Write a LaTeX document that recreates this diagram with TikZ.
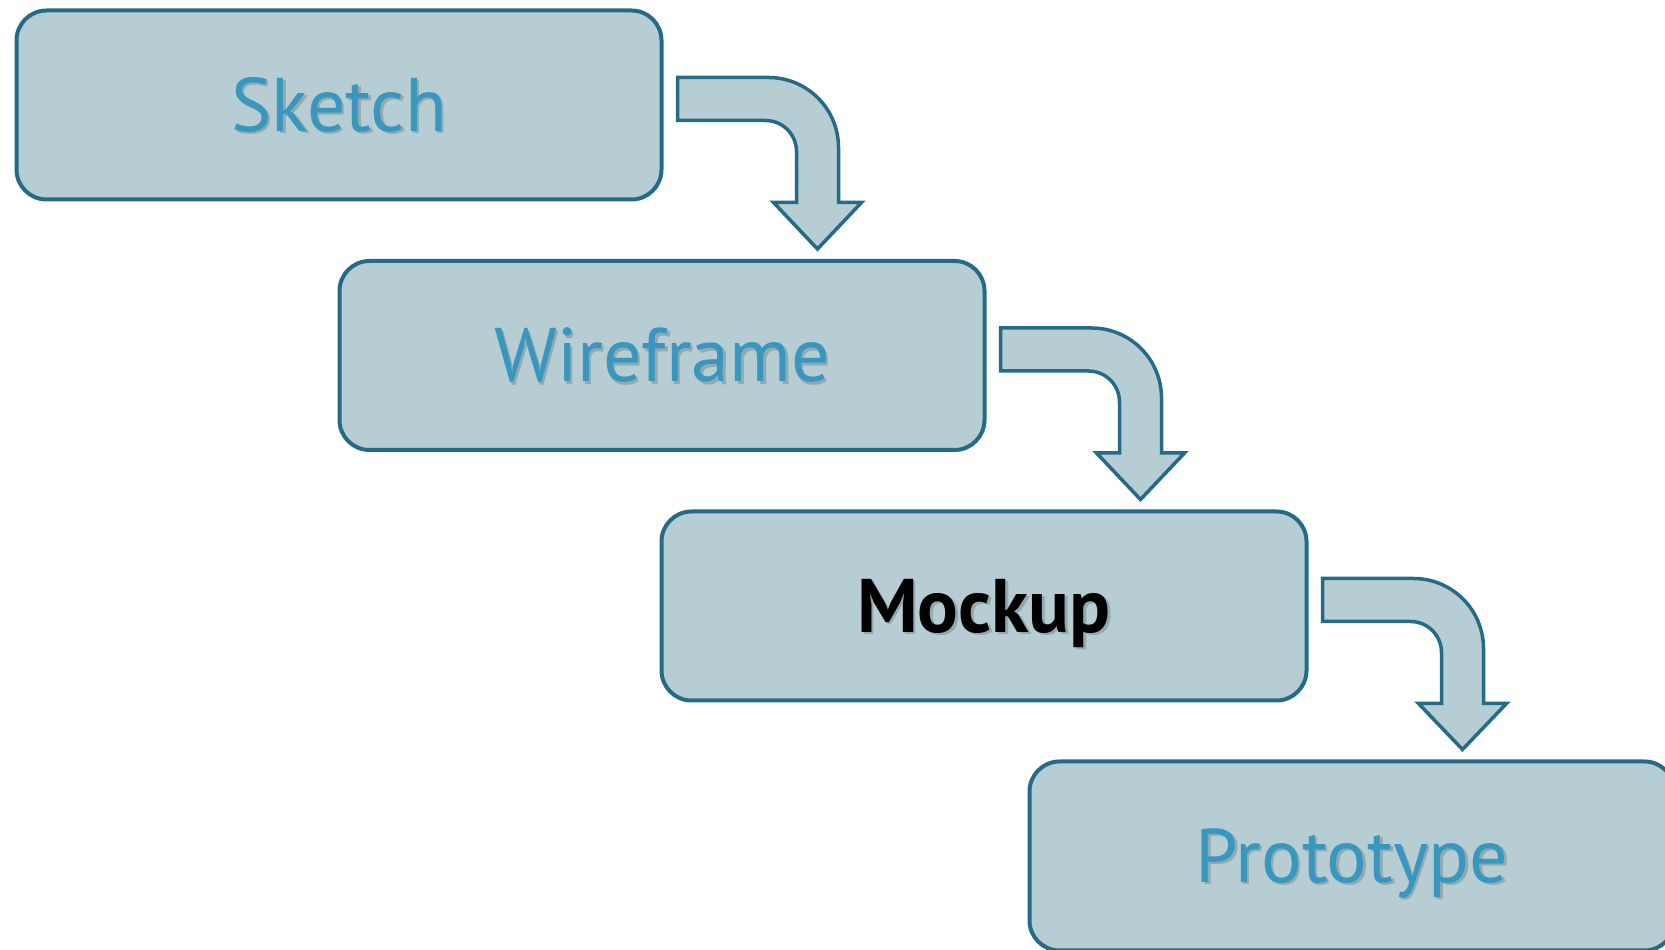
\documentclass[tikz,border=0pt]{standalone}
\usepackage{fontspec}
\setmainfont{PT Sans}
\usetikzlibrary{calc}
\definecolor{relleno}{HTML}{B6CDD4}
\definecolor{borde}{HTML}{256B87}
\definecolor{letra}{HTML}{3797BE}
\definecolor{sombra}{HTML}{94A8AE}
% texto con sombra desplazada abajo a la derecha
\newcommand\sombra[1]{\rlap{\hspace*{2.5pt}\raisebox{-2.5pt}{\textcolor{sombra}{#1}}}#1}
\tikzset{
  % Cajas de cada etapa
  caja/.style   = {draw=borde, fill=relleno, line width=4pt, rounded corners=30pt,
                   minimum width=645pt, minimum height=189pt, inner sep=0pt, outer sep=0pt,
                   text height=53pt, text depth=0pt, font=\fontsize{76}{80}\selectfont,
                   text=letra},
  % Etapa destacada
  actual/.style = {text=black, font=\fontsize{76}{80}\selectfont\bfseries},
  % Flecha acodada entre etapas
  flecha/.style = {draw=borde, fill=relleno, line width=3.5pt, line join=miter},
}
\begin{document}
\begin{tikzpicture}[x=1pt, y=1pt]
  \useasboundingbox (0,0) rectangle (1665,950);

  \node[caja] (sketch)    at (339,845)   {\sombra{Sketch}};
  \node[caja] (wireframe) at (662,594.5) {\sombra{Wireframe}};
  \node[caja, actual] (mockup) at (984,344) {\sombra{Mockup}};
  \node[caja] (prototype) at (1352,94)   {\sombra{Prototype}};

  % flechas: salen del lado derecho y bajan hacia la siguiente caja
  \foreach \a/\b in {sketch/wireframe, wireframe/mockup, mockup/prototype}{
    \coordinate (e) at (\a.north east);
    \coordinate (s) at (\a.south east);
    \coordinate (eje) at ($(s)+(156pt,0)$);
    \coordinate (punta) at ($(eje |- \b.north)+(0,12pt)$);
    \draw[flecha] ($(e)+(16pt,-67pt)$) -- ($(e)+(107pt,-67pt)$)
      arc[start angle=90, end angle=0, radius=70pt]
      -- ($(s)+(177pt,-3pt)$) -- ($(s)+(200pt,-3pt)$)
      -- (punta)
      -- ($(s)+(112pt,-3pt)$) -- ($(s)+(135pt,-3pt)$)
      -- ($(e)+(135pt,-141pt)$)
      arc[start angle=0, end angle=90, radius=31pt]
      -- ($(e)+(16pt,-110pt)$) -- cycle;
  }
\end{tikzpicture}
\end{document}
